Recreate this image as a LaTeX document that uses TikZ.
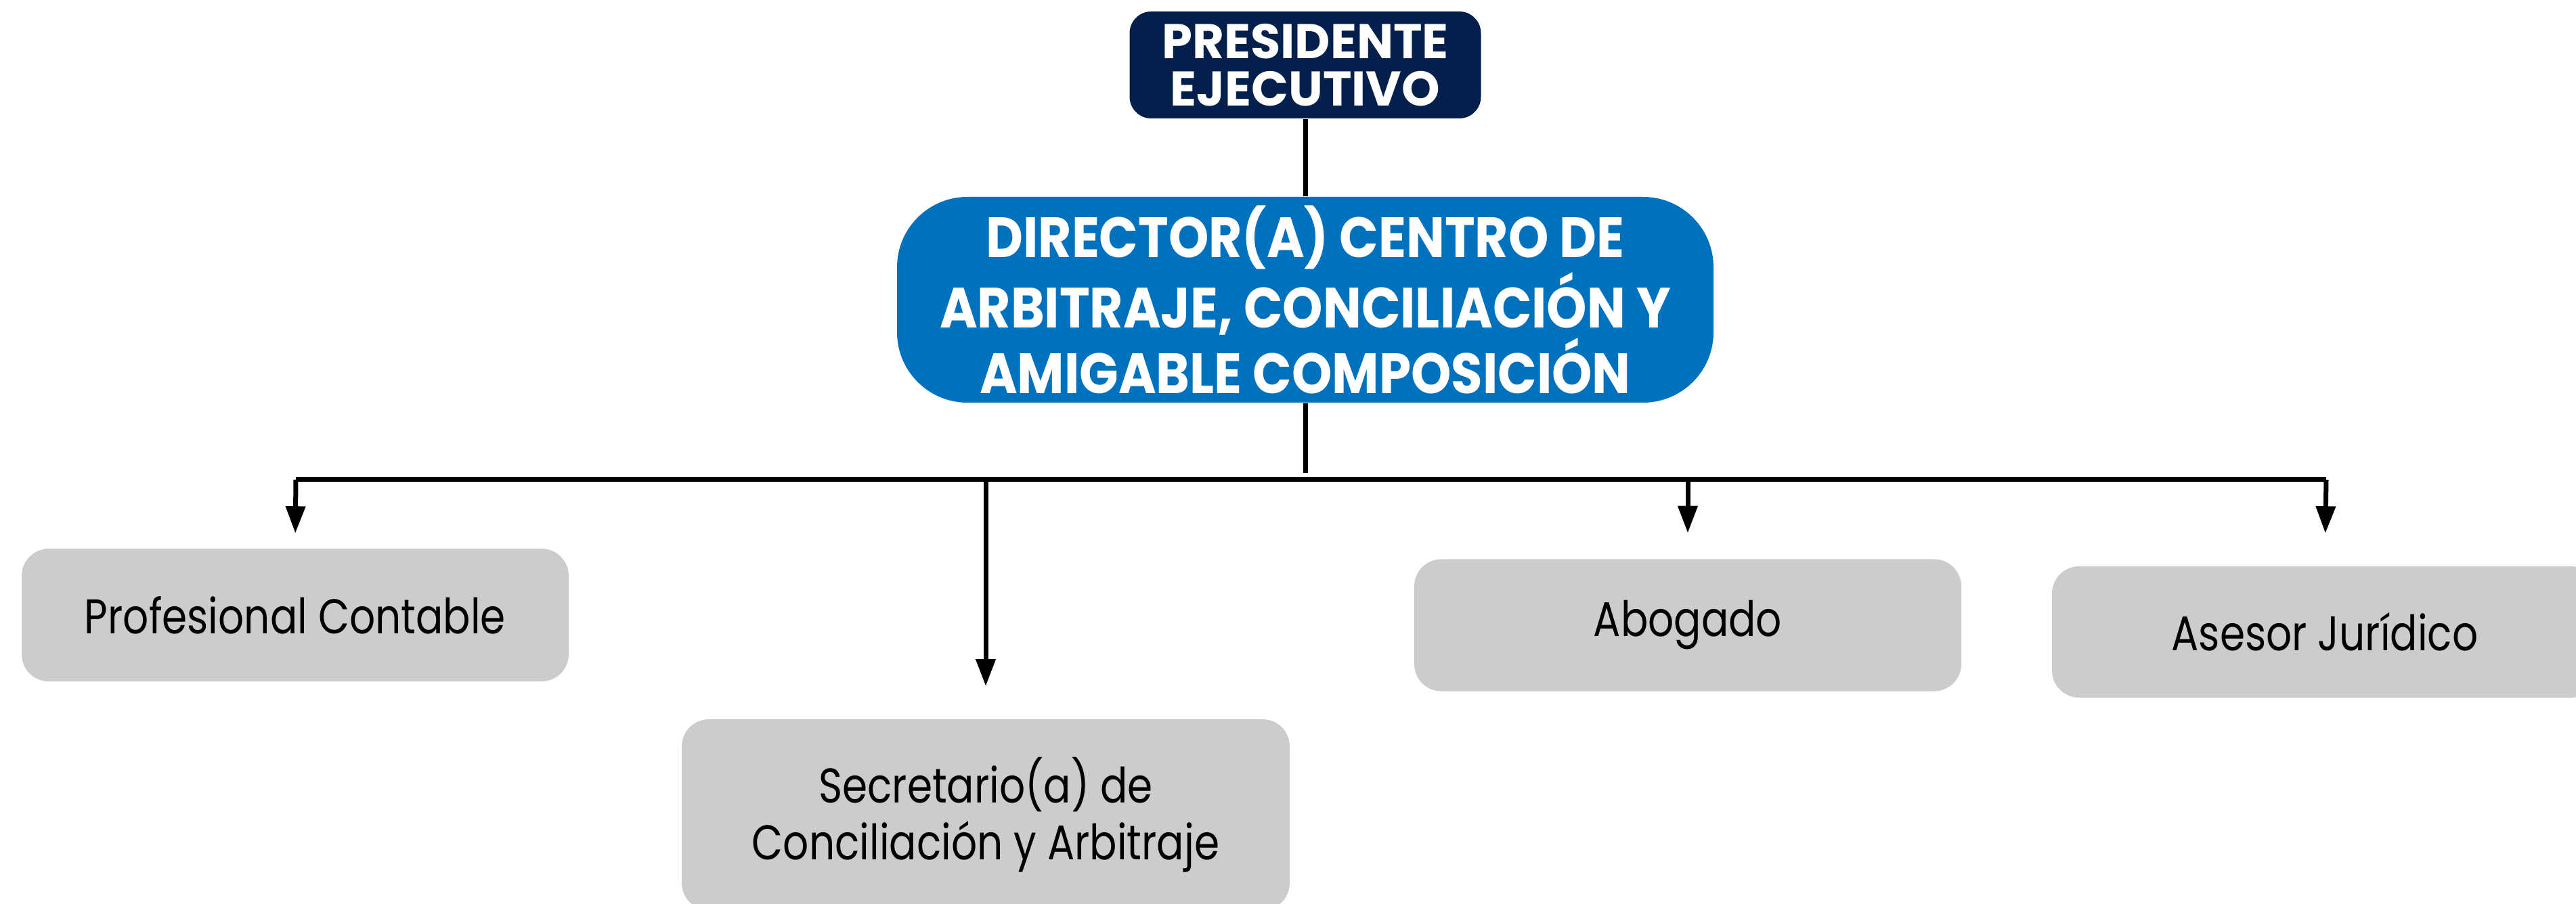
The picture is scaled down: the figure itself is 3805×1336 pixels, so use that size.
\documentclass[tikz,border=0pt]{standalone}
\usepackage{fontspec}
\setmainfont{Poppins}
\newfontfamily\angosta[FakeStretch=0.83]{Poppins}
\newfontfamily\angostab[FakeStretch=0.9]{Poppins}
\usetikzlibrary{arrows.meta}
\definecolor{navy}{RGB}{3,32,76}
\definecolor{azul}{RGB}{0,113,188}
\definecolor{gris}{RGB}{204,204,204}

\begin{document}
\begin{tikzpicture}[x=0.25pt,y=0.25pt,yscale=-1,xscale=1,
  jefe/.style={fill=navy, text=white, rounded corners=8pt, inner sep=0pt, align=center,
    font=\bfseries\fontsize{18}{17.5}\selectfont, minimum width=129.75pt, minimum height=39.5pt},
  director/.style={fill=azul, text=white, rounded corners=26pt, inner sep=0pt, align=center,
    font=\angostab\bfseries\fontsize{21}{21.75}\selectfont, minimum width=301.5pt, minimum height=76pt},
  cargo/.style={fill=gris, text=black, rounded corners=10pt, inner sep=0pt, align=center,
    font=\angosta\fontsize{18}{21}\selectfont, minimum width=202pt, minimum height=49pt},
  link/.style={line width=1.75pt},
  flecha/.style={line width=1.75pt, -{Triangle[length=10pt,width=7pt]}}]
\useasboundingbox (0,0) rectangle (3805,1336);

% Text Node
\node [jefe] (pres) at (1928,96) {PRESIDENTE\\EJECUTIVO};
% Text Node
\node [director] (dir) at (1928,443) {DIRECTOR(A) CENTRO DE\\ARBITRAJE, CONCILIACIÓN Y\\AMIGABLE COMPOSICIÓN};

% Text Node
\node [cargo] (prof) at (436,909) {Profesional Contable};
% Text Node
\node [cargo, minimum width=224.5pt, minimum height=70.5pt] (sec) at (1456,1204) {Secretario(a) de\\Conciliación y Arbitraje};
% Text Node
\node [cargo, minimum height=48.75pt] (abog) at (2493,924) {Abogado};
% Text Node
\node [cargo, minimum width=201.5pt, minimum height=48.5pt] (ases) at (3434,934) {Asesor Jurídico};

%Straight Lines
\draw [link] (pres) -- (dir);
\coordinate (busL) at (437,709);
\coordinate (busR) at (3436,709);
\coordinate (busS) at (1456,709);
\coordinate (busA) at (2493,709);
\draw [link] (dir.south) -- ([yshift=-2.5pt]dir.south |- busL);
\draw [link] (busL) -- (busR);

%Straight Lines with arrows
\draw [flecha, shorten >=5.5pt] (busL) -- (prof.north);
\draw [flecha, shorten >=12pt] (busS) -- (sec.north);
\draw [flecha, shorten >=9.5pt] (busA) -- (abog.north);
\draw [flecha, shorten >=12pt] (busR) -- (ases.north);

\end{tikzpicture}
\end{document}
